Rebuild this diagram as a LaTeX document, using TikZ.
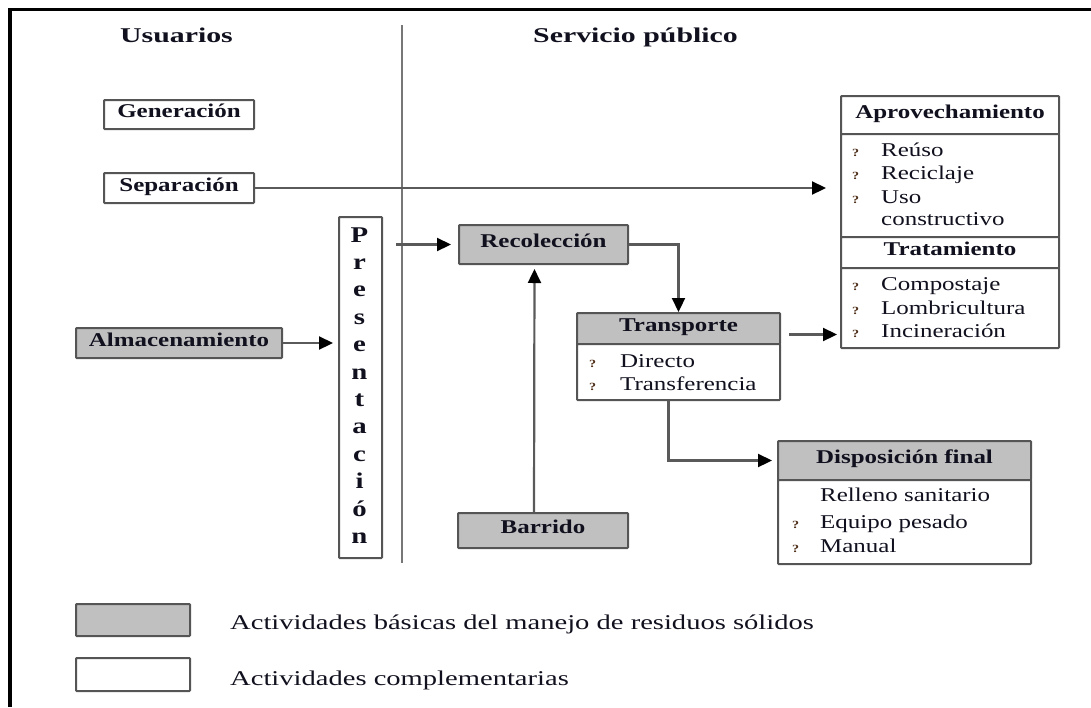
\documentclass[tikz,border=0pt]{standalone}
\usepackage{fontspec}
\setmainfont{Liberation Serif}[FakeStretch=1.28]
\newfontfamily\headfamily{Liberation Serif}[FakeStretch=1.42]
\newfontfamily\legfamily{Liberation Serif}[FakeStretch=1.36]
\usetikzlibrary{arrows.meta,calc}

\definecolor{boxline}{HTML}{555555}
\definecolor{basicgray}{HTML}{C0C0C0}
\definecolor{lineg}{HTML}{5A5A5A}
\definecolor{txt}{HTML}{10101E}
\definecolor{divg}{HTML}{777777}

\newcommand\boxfont{\bfseries\fontsize{19.5}{22}\selectfont}
\newcommand\itemfont{\fontsize{19.5}{22}\selectfont}
\newcommand\headfont{\headfamily\bfseries\fontsize{21}{24}\selectfont}
\newcommand\presfont{\bfseries\fontsize{22.5}{24}\selectfont}
\newcommand\legfont{\legfamily\fontsize{21}{24}\selectfont}
\newcommand\bulfont{\bfseries\fontsize{11}{11}\selectfont}

\tikzset{
  box/.style={draw=boxline, line width=2pt, rounded corners=0.8pt, inner sep=0pt,
    text=txt, font=\boxfont, text height=0.66em, text depth=0pt},
  basic/.style={box, fill=basicgray},
  compl/.style={box, fill=white},
  head/.style={inner sep=0pt, text=txt, font=\headfont, anchor=base},
  item/.style={inner sep=0pt, text=txt, font=\itemfont, anchor=base west},
  bul/.style={inner sep=0pt, text=txt!75!orange, font=\bulfont, anchor=base west},
  presl/.style={inner sep=0pt, text=txt, font=\presfont, anchor=base},
  leg/.style={inner sep=0pt, text=txt, font=\legfont, anchor=base west},
  conn/.style={draw=lineg, line width=2.2pt, -{Triangle[length=14pt,width=13pt,color=black]}},
}

\begin{document}
\begin{tikzpicture}[x=1pt,y=-1pt]
\useasboundingbox (0,0) rectangle (1091,707);

% outer frame (top and left edges)
\draw[line width=3.5pt, black, line join=miter] (1091,9.5) -- (10,9.5) -- (10,707);

% divider between users and public service
\draw[draw=divg, line width=2pt] (402,25) -- (402,563);

% column headings
\node[head] (usuarios) at (176.5,42) {Usuarios};
\node[head] (servicio) at (635.5,42) {Servicio público};

% user-side activities
\node[compl, minimum width=150, minimum height=29, anchor=north west] (gen) at (103,99) {Generación};
\node[compl, minimum width=150, minimum height=30, anchor=north west] (sep) at (103,172) {Separación};
\node[basic, minimum width=206, minimum height=30, anchor=north west] (alm) at (75,327) {Almacenamiento};

% vertical "Presentación" box
\node[compl, minimum width=43, minimum height=341, anchor=north west] (pres) at (338,216) {};
\foreach \ch [count=\k from 0] in {P,r,e,s,e,n,t,a,c,i,ó,n}
  \node[presl] (pl\k) at (359.5,242+27.4*\k) {\ch};

% collection and sweeping
\node[basic, minimum width=169, minimum height=39, anchor=north west] (rec) at (458,224) {Recolección};
\node[basic, minimum width=170, minimum height=35, anchor=north west] (barr) at (457,512) {Barrido};

% transport
\node[basic, minimum width=203, minimum height=31, anchor=north west] (transh) at (576,312) {Transporte};
\node[compl, minimum width=203, minimum height=56, anchor=north west] (transb) at (576,343) {};
\node[bul] (tb1) at (589,367) {?};
\node[item] (ti1) at (620,367) {Directo};
\node[bul] (tb2) at (589,390) {?};
\node[item] (ti2) at (620,390) {Transferencia};

% recovery and treatment
\node[compl, minimum width=218, minimum height=38, anchor=north west] (aph) at (840,95) {Aprovechamiento};
\node[compl, minimum width=218, minimum height=103, anchor=north west] (apl) at (840,133) {};
\node[compl, minimum width=218, minimum height=31, anchor=north west] (trh) at (840,236) {Tratamiento};
\node[compl, minimum width=218, minimum height=80, anchor=north west] (trl) at (840,267) {};
\node[bul] (ab1) at (852,156) {?};
\node[item] (ai1) at (881,156) {Reúso};
\node[bul] (ab2) at (852,179) {?};
\node[item] (ai2) at (881,179) {Reciclaje};
\node[bul] (ab3) at (852,203) {?};
\node[item] (ai3) at (881,203) {Uso};
\node[item] (ai4) at (881,225) {constructivo};
\node[bul] (rb1) at (852,290) {?};
\node[item] (ri1) at (881,290) {Compostaje};
\node[bul] (rb2) at (852,314) {?};
\node[item] (ri2) at (881,314) {Lombricultura};
\node[bul] (rb3) at (852,337) {?};
\node[item] (ri3) at (881,337) {Incineración};

% final disposal
\node[basic, minimum width=253, minimum height=39, anchor=north west] (disph) at (777,440) {Disposición final};
\node[compl, minimum width=253, minimum height=84, anchor=north west] (dispb) at (777,479) {};
\node[item] (di0) at (820,501) {Relleno sanitario};
\node[bul] (db1) at (792,528) {?};
\node[item] (di1) at (820,528) {Equipo pesado};
\node[bul] (db2) at (792,552) {?};
\node[item] (di2) at (820,552) {Manual};

% connectors
\draw[conn, shorten >=14pt] (sep.east) -- (sep.east -| apl.west);
\draw[conn, shorten >=5pt] (alm.east) -- (alm.east -| pres.west);
\draw[conn, shorten <=13pt, shorten >=7pt] (pres.east |- rec.west) -- (rec.west);
\draw[conn] (rec.east) -| (transh.north);
\draw[conn, shorten >=4pt] ([xshift=-9pt]barr.north) -- ([xshift=-9pt]rec.south);
\draw[conn, shorten <=8pt, shorten >=3pt] ([yshift=-6pt]transh.east) -- ([yshift=-6pt]transh.east -| trl.west);
\draw[conn, shorten >=5pt] ([xshift=-10pt]transb.south) |- (disph.west);

% legend
\node[basic, minimum width=114, minimum height=32, anchor=north west] (legb) at (75,603) {};
\node[compl, minimum width=114, minimum height=33, anchor=north west] (legc) at (75,657) {};
\node[leg] (legbt) at (230,629) {Actividades básicas del manejo de residuos sólidos};
\node[leg] (legct) at (230,685) {Actividades complementarias};
\end{tikzpicture}
\end{document}
